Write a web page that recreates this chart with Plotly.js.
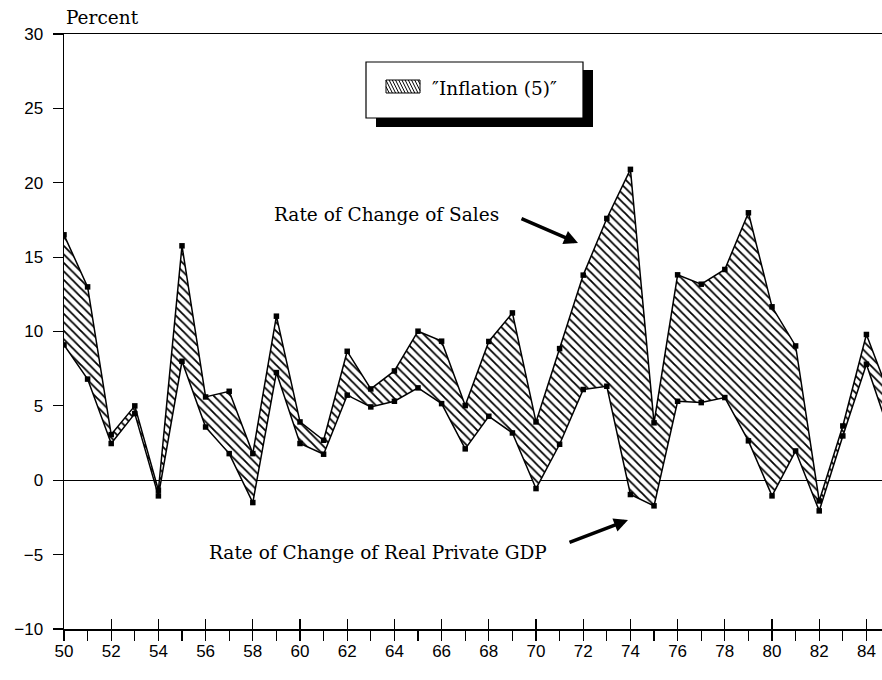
<!DOCTYPE html>
<html>
<head>
<meta charset="utf-8">
<script src="https://cdn.plot.ly/plotly-3.0.1.min.js"></script>
<style>html,body{margin:0;padding:0;background:#fff;}#chart{width:882px;height:680px;}</style>
</head>
<body>
<div id="chart"></div>
<script>
// ---- data ----
const years = [50,51,52,53,54,55,56,57,58,59,60,61,62,63,64,65,66,67,68,69,70,71,72,73,74,75,76,77,78,79,80,81,82,83,84,85];
const salesChange = [16.5,13.0,3.07,5.0,-0.67,15.76,5.6,5.98,1.79,11.03,3.92,2.69,8.67,6.14,7.35,10.02,9.35,5.02,9.33,11.25,3.92,8.85,13.79,17.6,20.9,3.86,13.81,13.18,14.17,17.98,11.66,9.03,-1.39,3.65,9.8,5.6];
const gdpChange = [9.1,6.8,2.47,4.48,-1.05,8.0,3.58,1.79,-1.5,7.24,2.47,1.75,5.72,4.93,5.31,6.21,5.15,2.11,4.30,3.18,-0.56,2.42,6.1,6.32,-0.96,-1.72,5.31,5.22,5.56,2.65,-1.05,1.97,-2.06,2.98,7.8,3.1];
const yTicks = [-10,-5,0,5,10,15,20,25,30];
const xTickVals = [50,52,54,56,58,60,62,64,66,68,70,72,74,76,78,80,82,84];
const legendLabel = '\u2033Inflation (5)\u2033';
const salesLabel = 'Rate of Change of Sales';
const gdpLabel = 'Rate of Change of Real Private GDP';
const yAxisLabel = 'Percent';

// ---- layout geometry ----
const W = 882, H = 680;
const M = {l: 64, r: 0, t: 34, b: 51};
const PW = W - M.l - M.r, PH = H - M.t - M.b;
const px = x => (x - M.l) / PW;
const py = y => (H - M.b - y) / PH;

const SERIF = 'DejaVu Serif, Liberation Serif, serif';
const SANS = 'Liberation Sans, Arial, sans-serif';

const traces = [
  {
    x: years, y: gdpChange, type: 'scatter', mode: 'lines+markers',
    line: {color: 'black', width: 1.5},
    marker: {symbol: 'square', size: 5.5, color: 'black'},
    showlegend: false, hoverinfo: 'x+y'
  },
  {
    x: years, y: salesChange, type: 'scatter', mode: 'lines+markers',
    fill: 'tonexty', fillcolor: 'white',
    fillpattern: {shape: '\\', fgcolor: 'black', bgcolor: 'white', size: 6, solidity: 0.3},
    line: {color: 'black', width: 1.5},
    marker: {symbol: 'square', size: 5.5, color: 'black'},
    showlegend: false, hoverinfo: 'x+y'
  },
  { // carrier for the inside tick overlay axis
    x: [years[0]], y: [null], xaxis: 'x2', type: 'scatter', mode: 'markers',
    showlegend: false, hoverinfo: 'skip'
  }
];

// legend box with shadow and hatched swatch (decoration)
const shapes = [];
shapes.push({type: 'rect', xref: 'paper', yref: 'paper', x0: px(376), x1: px(593), y0: py(70), y1: py(127),
  fillcolor: 'black', line: {width: 0}});
shapes.push({type: 'rect', xref: 'paper', yref: 'paper', x0: px(366), x1: px(583), y0: py(62), y1: py(118),
  fillcolor: 'white', line: {color: 'black', width: 1.2}});
const sw = {x0: 386, x1: 420, y0: 80, y1: 93};
shapes.push({type: 'rect', xref: 'paper', yref: 'paper', x0: px(sw.x0), x1: px(sw.x1), y0: py(sw.y0), y1: py(sw.y1),
  fillcolor: 'white', line: {color: 'black', width: 1}});
(function () {
  const h = sw.y1 - sw.y0, k = 0.5; // horizontal run per unit height
  let d = '';
  for (let t = sw.x0 - h * k; t < sw.x1; t += 3.2) {
    let ya = sw.y0, yb = sw.y1;
    let xa = t, xb = t + h * k;
    if (xa < sw.x0) { ya = sw.y0 + (sw.x0 - t) / k; xa = sw.x0; }
    if (xb > sw.x1) { yb = sw.y0 + (sw.x1 - t) / k; xb = sw.x1; }
    if (ya >= yb) continue;
    d += `M${px(xa)},${py(ya)}L${px(xb)},${py(yb)}`;
  }
  shapes.push({type: 'path', xref: 'paper', yref: 'paper', path: d, line: {color: 'black', width: 1}});
})();

const FS = 18.5;
const annotations = [
  {text: yAxisLabel, xref: 'paper', yref: 'paper', x: px(64), y: py(17), xanchor: 'left', yanchor: 'middle',
   showarrow: false, font: {family: SERIF, size: FS, color: 'black'}},
  {text: legendLabel, xref: 'paper', yref: 'paper', x: px(430), y: py(88), xanchor: 'left', yanchor: 'middle',
   showarrow: false, font: {family: SERIF, size: FS, color: 'black'}},
  {text: salesLabel, xref: 'paper', yref: 'paper', x: px(272), y: py(214), xanchor: 'left', yanchor: 'middle',
   showarrow: false, font: {family: SERIF, size: FS, color: 'black'}},
  {text: gdpLabel, xref: 'paper', yref: 'paper', x: px(207), y: py(552), xanchor: 'left', yanchor: 'middle',
   showarrow: false, font: {family: SERIF, size: FS, color: 'black'}},
  {text: '', xref: 'paper', yref: 'paper', x: px(578), y: py(243), ax: -58, ay: -25,
   showarrow: true, arrowhead: 2, arrowsize: 0.8, arrowwidth: 3.5, arrowcolor: 'black'},
  {text: '', xref: 'paper', yref: 'paper', x: px(628), y: py(520), ax: -60, ay: 23,
   showarrow: true, arrowhead: 2, arrowsize: 0.8, arrowwidth: 3.5, arrowcolor: 'black'}
];

const xr = [50, 84.66];
const layout = {
  width: W, height: H,
  margin: M,
  paper_bgcolor: 'white', plot_bgcolor: 'white',
  showlegend: false,
  xaxis: {
    range: xr, showgrid: false, zeroline: false,
    showline: true, linecolor: 'black', linewidth: 1.5, mirror: true,
    tickvals: xTickVals, ticktext: xTickVals.map(String),
    ticks: 'outside', ticklen: 10, tickwidth: 1.2, tickcolor: 'black',
    minor: {dtick: 1, tick0: 50, ticks: 'outside', ticklen: 10, tickwidth: 1.2, tickcolor: 'black', showgrid: false},
    tickfont: {family: SANS, size: 17, color: 'black'},
    ticklabelstandoff: -4
  },
  xaxis2: {
    overlaying: 'x', side: 'bottom', anchor: 'y',
    range: xr, showgrid: false, zeroline: false, showline: false,
    tickvals: xTickVals, showticklabels: false,
    ticks: 'inside', ticklen: 10, tickwidth: 1.2, tickcolor: 'black'
  },
  yaxis: {
    range: [-10, 30], showgrid: false,
    zeroline: true, zerolinecolor: 'black', zerolinewidth: 1.2,
    showline: true, linecolor: 'black', linewidth: 1.5,
    tickvals: yTicks, ticks: 'outside', ticklen: 10, tickwidth: 1.2, tickcolor: 'black',
    tickfont: {family: SANS, size: 17, color: 'black'},
    ticklabelstandoff: 6
  },
  shapes: shapes,
  annotations: annotations
};

Plotly.newPlot('chart', traces, layout, {staticPlot: true, displayModeBar: false});
</script>
</body>
</html>
